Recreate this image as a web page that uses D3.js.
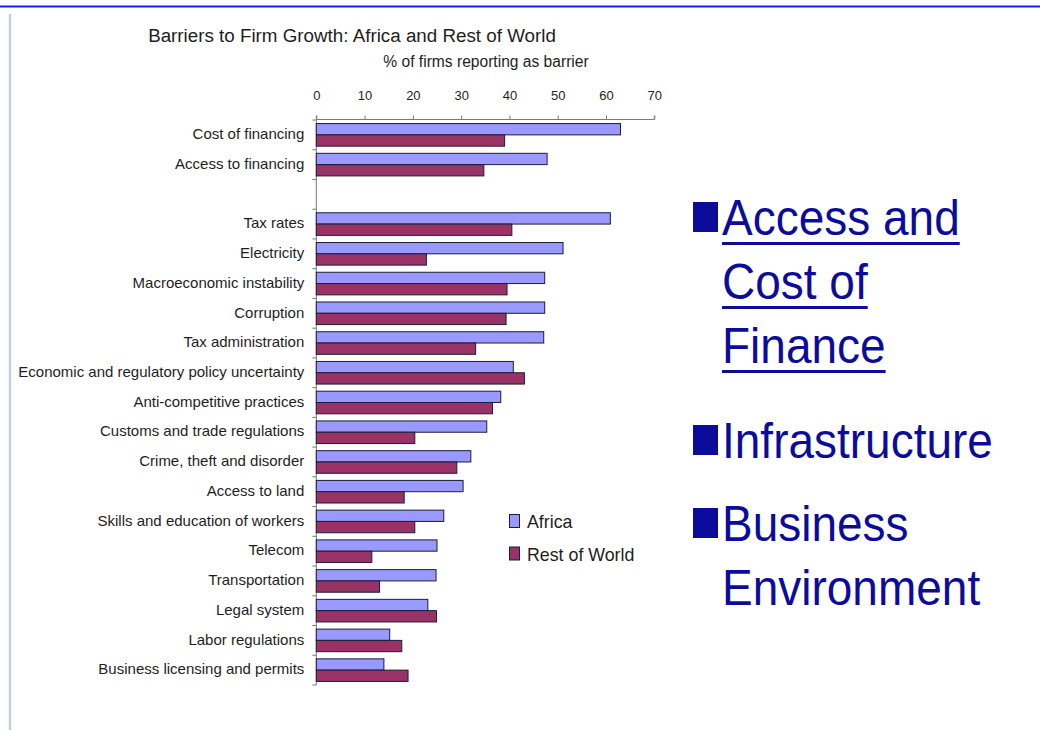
<!DOCTYPE html>
<html>
<head>
<meta charset="utf-8">
<script src="https://cdn.jsdelivr.net/npm/d3@7"></script>
<style>
  html, body { margin: 0; padding: 0; background: #ffffff; }
  svg { display: block; font-family: "Liberation Sans", Arial, sans-serif; }
</style>
</head>
<body>
<svg id="chart" width="1040" height="730"></svg>
<script>
// Barriers reported by firms (share of firms, %). The empty entry is a spacer row.
const categories = [
  "Cost of financing",
  "Access to financing",
  "",
  "Tax rates",
  "Electricity",
  "Macroeconomic instability",
  "Corruption",
  "Tax administration",
  "Economic and regulatory policy uncertainty",
  "Anti-competitive practices",
  "Customs and trade regulations",
  "Crime, theft and disorder",
  "Access to land",
  "Skills and education of workers",
  "Telecom",
  "Transportation",
  "Legal system",
  "Labor regulations",
  "Business licensing and permits"
];
const africa = [63.0, 47.8, null, 60.9, 51.1, 47.3, 47.3, 47.1, 40.8, 38.2, 35.3, 32.0, 30.4, 26.4, 25.0, 24.8, 23.1, 15.2, 14.0];
const restOfWorld = [39.0, 34.7, null, 40.5, 22.8, 39.5, 39.3, 33.0, 43.1, 36.5, 20.4, 29.1, 18.2, 20.4, 11.5, 13.1, 24.9, 17.7, 19.0];
const seriesNames = ["Africa", "Rest of World"];
const xTicks = [0, 10, 20, 30, 40, 50, 60, 70];
const chartTitle = "Barriers to Firm Growth: Africa and Rest of World";
const axisTitle = "% of firms reporting as barrier";
const bulletItems = [
  { lines: ["Access and", "Cost of", "Finance"], underline: true },
  { lines: ["Infrastructure"], underline: false },
  { lines: ["Business", "Environment"], underline: false }
];

const colors = { "Africa": "#9999ff", "Rest of World": "#993366" };
const barStroke = "#1c1c3c";
const slideBlue = "#0c0c9c";
const inkColor = "#1e1e1e";

const svg = d3.select("#chart");

// Slide decoration: top rule and faint left rule
svg.append("rect").attr("x", 0).attr("y", 5.5).attr("width", 1040).attr("height", 2).attr("fill", "#1818ff");
svg.append("rect").attr("x", 8.8).attr("y", 14).attr("width", 2.4).attr("height", 716).attr("fill", "#c6cae6");

// Scales
const rowIds = categories.map((c, i) => "row" + i);
const x = d3.scaleLinear().domain([0, 70]).range([316.3, 654.3]);
const y = d3.scaleBand().domain(rowIds).range([120, 685]).paddingInner(0.24).paddingOuter(0.12);
const ySub = d3.scaleBand().domain(seriesNames).range([0, y.bandwidth()]);

// Titles
svg.append("text").attr("x", 352).attr("y", 42).attr("text-anchor", "middle")
  .attr("font-size", 18.8).attr("fill", inkColor).text(chartTitle);
svg.append("text").attr("x", 486).attr("y", 67).attr("text-anchor", "middle")
  .attr("font-size", 15.6).attr("fill", inkColor).text(axisTitle);

// Top value axis
const xAxis = d3.axisTop(x).tickValues(xTicks).tickSize(4).tickPadding(16).tickFormat(d3.format("d"));
const gx = svg.append("g").attr("transform", "translate(0,119.5)").call(xAxis);
gx.select(".domain").attr("stroke", "#7a7a7a").attr("d", `M${x(0)},-4V0H${x(70)}V-4`);
gx.selectAll(".tick line").attr("stroke", "#7a7a7a");
gx.selectAll(".tick text").attr("font-size", 13).attr("fill", inkColor)
  .attr("font-family", "'Liberation Sans', Arial, sans-serif");

// Left category axis: line plus ticks on row boundaries
const step = y.step();
const y0 = y.range()[0];
const gy = svg.append("g");
gy.append("line").attr("x1", x(0)).attr("x2", x(0)).attr("y1", y0).attr("y2", y.range()[1])
  .attr("stroke", "#7a7a7a");
gy.selectAll("line.rowtick").data(d3.range(categories.length + 1)).join("line")
  .attr("class", "rowtick")
  .attr("x1", x(0) - 4).attr("x2", x(0))
  .attr("y1", i => y0 + i * step).attr("y2", i => y0 + i * step)
  .attr("stroke", "#7a7a7a");
gy.selectAll("text").data(categories).join("text")
  .attr("x", x(0) - 12)
  .attr("y", (c, i) => y(rowIds[i]) + y.bandwidth() / 2 - 1)
  .attr("dy", "0.35em")
  .attr("text-anchor", "end")
  .attr("font-size", 15)
  .attr("fill", inkColor)
  .text(c => c);

// Bars
const rows = categories.map((c, i) => ({ id: rowIds[i], values: [
  { series: "Africa", v: africa[i] },
  { series: "Rest of World", v: restOfWorld[i] }
]}));
const groups = svg.append("g").selectAll("g").data(rows).join("g")
  .attr("transform", d => `translate(0,${y(d.id)})`);
groups.selectAll("rect").data(d => d.values.filter(v => v.v !== null)).join("rect")
  .attr("x", x(0))
  .attr("y", d => ySub(d.series))
  .attr("width", d => x(d.v) - x(0))
  .attr("height", ySub.bandwidth())
  .attr("fill", d => colors[d.series])
  .attr("stroke", barStroke)
  .attr("stroke-width", 1);

// Legend
const legend = svg.append("g").attr("transform", "translate(509,514)");
seriesNames.forEach((s, i) => {
  const g = legend.append("g").attr("transform", `translate(0,${i * 32.5})`);
  g.append("rect").attr("x", 0.5).attr("y", 0.5).attr("width", 10).attr("height", 13)
    .attr("fill", colors[s]).attr("stroke", barStroke);
  g.append("text").attr("x", 18).attr("y", 14).attr("font-size", 17.8).attr("fill", inkColor).text(s);
});

// Right-hand bullet list
const bullets = svg.append("g");
const lineH = 64;
const starts = [235, 458, 541];
bulletItems.forEach((item, k) => {
  const base = starts[k];
  bullets.append("rect").attr("x", 693).attr("y", base - 33).attr("width", 25).attr("height", 30)
    .attr("fill", slideBlue);
  item.lines.forEach((ln, j) => {
    const by = base + j * lineH;
    const t = bullets.append("text")
      .attr("transform", `translate(722,${by}) scale(0.92,1)`)
      .attr("font-size", 50).attr("fill", slideBlue).text(ln);
    if (item.underline) {
      const w = t.node().getComputedTextLength() * 0.92;
      bullets.append("rect").attr("x", 722).attr("y", by + 7).attr("width", w).attr("height", 3)
        .attr("fill", slideBlue);
    }
  });
});
</script>
</body>
</html>
